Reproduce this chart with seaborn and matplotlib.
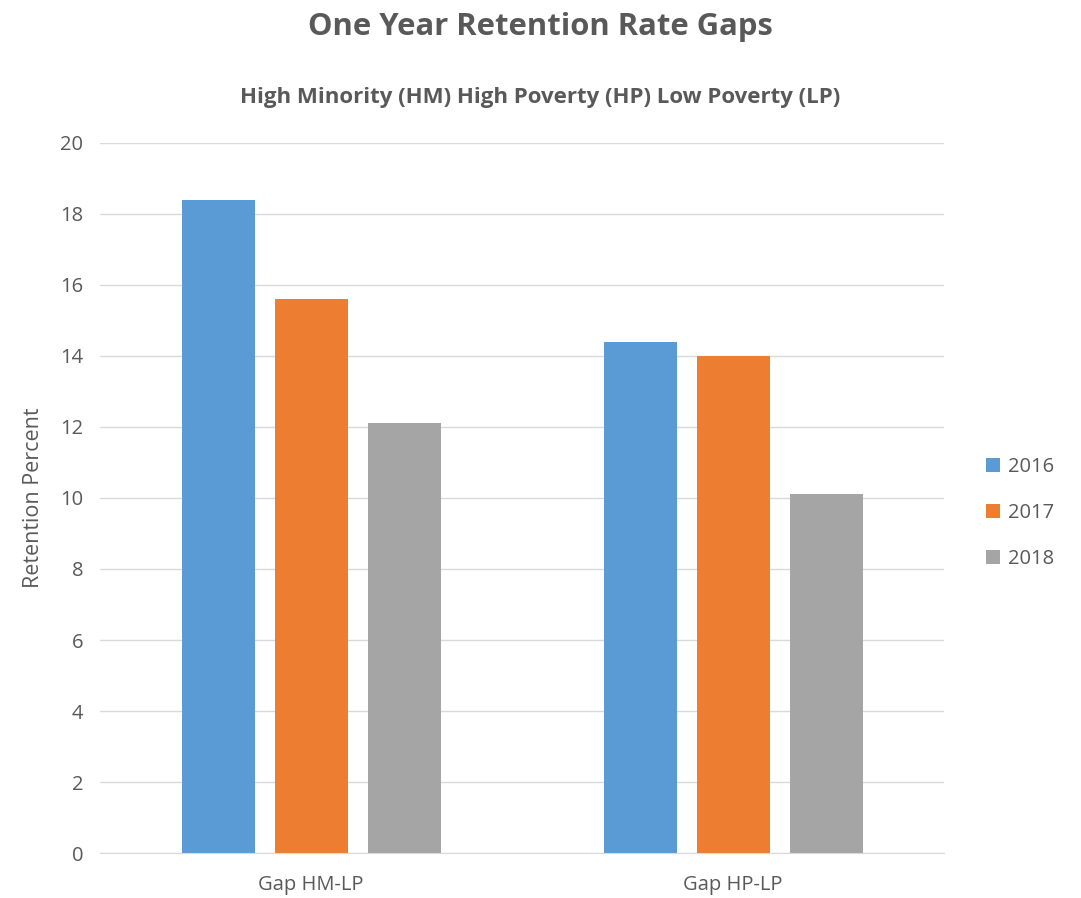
import matplotlib
matplotlib.use("Agg")
import matplotlib.pyplot as plt
import seaborn as sns
import pandas as pd

# ----------------------------
# Data
# ----------------------------
categories = ["Gap HM-LP", "Gap HP-LP"]
years = ["2016", "2017", "2018"]
values_2016 = [18.4, 14.4]
values_2017 = [15.6, 14.0]
values_2018 = [12.1, 10.1]
colors = ["#5B9BD5", "#ED7D31", "#A5A5A5"]

rows = []
for year, vals in zip(years, [values_2016, values_2017, values_2018]):
    for cat, v in zip(categories, vals):
        rows.append({"Category": cat, "Year": year, "Value": v})
df = pd.DataFrame(rows)

sns.set_style("white")
plt.rcParams["font.family"] = ["Open Sans", "DejaVu Sans"]
text_color = "#595959"

fig = plt.figure(figsize=(10.81, 8.98), dpi=100)
ax = fig.add_axes([0.0925, 0.050, 0.781, 0.791])

sns.barplot(data=df, x="Category", y="Value", hue="Year",
            palette=colors, width=0.661, gap=0.215,
            saturation=1, linewidth=0, ax=ax)

ax.set_ylim(0, 20)
ax.set_xlim(-0.5, 1.5)
ax.set_yticks(range(0, 21, 2))
ax.yaxis.grid(True, color="#D9D9D9", linewidth=1)
ax.set_axisbelow(True)
for s in ["top", "right", "left"]:
    ax.spines[s].set_visible(False)
ax.spines["bottom"].set_color("#D9D9D9")
ax.tick_params(axis="both", length=0, labelsize=14.5, colors=text_color, pad=12)
ax.tick_params(axis="x", pad=16)
ax.set_xlabel("")
ax.set_ylabel("Retention Percent", fontsize=15.5, color=text_color, labelpad=12)

fig.text(0.5, 0.970, "One Year Retention Rate Gaps", ha="center", va="center",
         fontsize=22.3, fontweight="bold", color=text_color)
fig.text(0.5, 0.891, "High Minority (HM) High Poverty (HP) Low Poverty (LP)",
         ha="center", va="center", fontsize=16, fontweight="bold", color=text_color)

leg = ax.legend(loc="center left", bbox_to_anchor=(1.028, 0.479), frameon=False,
                fontsize=14.5, handlelength=0.7, handleheight=0.7,
                labelspacing=1.3, handletextpad=0.4)
for t in leg.get_texts():
    t.set_color(text_color)

plt.savefig("out.png", dpi=100)
